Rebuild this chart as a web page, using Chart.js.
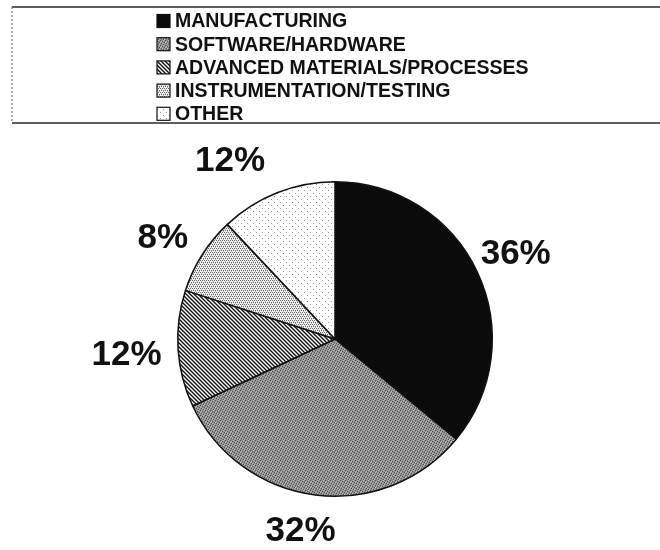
<!DOCTYPE html>
<html>
<head>
<meta charset="utf-8">
<script src="https://cdn.jsdelivr.net/npm/chart.js@4/dist/chart.umd.min.js"></script>
<style>
  html, body { margin: 0; padding: 0; background: #fff; }
  #wrap { position: relative; width: 660px; height: 550px; }
</style>
</head>
<body>
<div id="wrap"><canvas id="pieChart" width="660" height="550"></canvas></div>
<script>
// chart data
const categories = ['MANUFACTURING', 'SOFTWARE/HARDWARE', 'ADVANCED MATERIALS/PROCESSES', 'INSTRUMENTATION/TESTING', 'OTHER'];
const shares = [36, 32, 12, 8, 12];
const shareLabels = ['36%', '32%', '12%', '8%', '12%'];

// label placement tweaks (degrees off slice middle, distance as multiple of radius)
const labelTurn = [0, 3, -1, -2, -9];
const labelReach = [1.27, 1.24, 1.33, 1.27, 1.31];

function makeTile(size, draw) {
    const c = document.createElement('canvas');
    c.width = size; c.height = size;
    const g = c.getContext('2d');
    draw(g, size);
    return g.createPattern(c, 'repeat');
}

function px(g, pts, color) {
    g.fillStyle = color;
    pts.forEach(([x, y]) => g.fillRect(x, y, 1, 1));
}

const fills = [
    '#0b0b0b',
    // software/hardware: grainy mid grey
    makeTile(5, (g, s) => {
        g.fillStyle = '#8e8e8e'; g.fillRect(0, 0, s, s);
        px(g, [[0, 0], [2, 1], [4, 2], [1, 3], [3, 4]], '#4e4e4e');
        px(g, [[1, 1], [3, 0], [0, 2], [4, 4], [2, 3]], '#bdbdbd');
    }),
    // advanced materials: diagonal hatch
    makeTile(4, (g, s) => {
        g.fillStyle = '#fff'; g.fillRect(0, 0, s, s);
        g.strokeStyle = '#111'; g.lineWidth = 1.4;
        g.beginPath();
        g.moveTo(-1, -1); g.lineTo(s + 1, s + 1);
        g.moveTo(-1, s - 1); g.lineTo(1, s + 1);
        g.moveTo(s - 1, -1); g.lineTo(s + 1, 1);
        g.stroke();
    }),
    // instrumentation: fine light stipple
    makeTile(4, (g, s) => {
        g.fillStyle = '#f0f0f0'; g.fillRect(0, 0, s, s);
        px(g, [[0, 0], [2, 0], [1, 2], [3, 2]], '#6a6a6a');
        px(g, [[1, 1], [3, 3]], '#b0b0b0');
    }),
    // other: white with sparse dots
    makeTile(6, (g, s) => {
        g.fillStyle = '#fff'; g.fillRect(0, 0, s, s);
        px(g, [[1, 1], [4, 4]], '#9a9a9a');
    })
];

const outsideLabels = {
    id: 'outsideLabels',
    afterDatasetsDraw(chart) {
        const ctx = chart.ctx;
        const arcs = chart.getDatasetMeta(0).data;
        ctx.save();
        ctx.font = 'bold 35px "Liberation Sans", Arial, sans-serif';
        ctx.fillStyle = '#111';
        ctx.textAlign = 'center';
        ctx.textBaseline = 'middle';
        arcs.forEach((arc, i) => {
            const p = arc.getProps(['x', 'y', 'startAngle', 'endAngle', 'outerRadius'], true);
            const mid = (p.startAngle + p.endAngle) / 2 + labelTurn[i] * Math.PI / 180;
            const r = p.outerRadius * labelReach[i];
            ctx.fillText(shareLabels[i], p.x + Math.cos(mid) * r, p.y + Math.sin(mid) * r);
        });
        ctx.restore();
    }
};

const boxLegend = {
    id: 'boxLegend',
    afterDraw(chart) {
        const ctx = chart.ctx;
        const bg = chart.data.datasets[0].backgroundColor;
        ctx.save();
        // frame: dark top and bottom, faint dotted left side, open on the right
        ctx.strokeStyle = '#2a2a2a';
        ctx.lineWidth = 1.6;
        ctx.beginPath();
        ctx.moveTo(12, 7); ctx.lineTo(660, 7);
        ctx.moveTo(12, 123); ctx.lineTo(660, 123);
        ctx.stroke();
        ctx.strokeStyle = '#777';
        ctx.lineWidth = 1.2;
        ctx.setLineDash([2, 2]);
        ctx.beginPath();
        ctx.moveTo(12, 7); ctx.lineTo(12, 123);
        ctx.stroke();
        ctx.setLineDash([]);

        ctx.font = 'bold 19.5px "Liberation Sans", Arial, sans-serif';
        ctx.textBaseline = 'middle';
        ctx.textAlign = 'left';
        chart.data.labels.forEach((label, i) => {
            const y = 21 + i * 23.2;
            ctx.fillStyle = bg[i];
            ctx.fillRect(157, y - 6.5, 13, 13);
            ctx.strokeStyle = '#111';
            ctx.lineWidth = 1.2;
            ctx.strokeRect(157, y - 6.5, 13, 13);
            ctx.fillStyle = '#111';
            ctx.fillText(label, 175, y + 1);
        });
        ctx.restore();
    }
};

new Chart(document.getElementById('pieChart'), {
    type: 'pie',
    data: {
        labels: categories,
        datasets: [{
            data: shares,
            backgroundColor: fills,
            borderColor: '#111',
            borderWidth: 1.5
        }]
    },
    options: {
        responsive: false,
        animation: false,
        layout: {
            padding: { top: 181, bottom: 53, left: 177, right: 167 }
        },
        plugins: {
            legend: { display: false },
            tooltip: { enabled: false }
        }
    },
    plugins: [outsideLabels, boxLegend]
});
</script>
</body>
</html>
